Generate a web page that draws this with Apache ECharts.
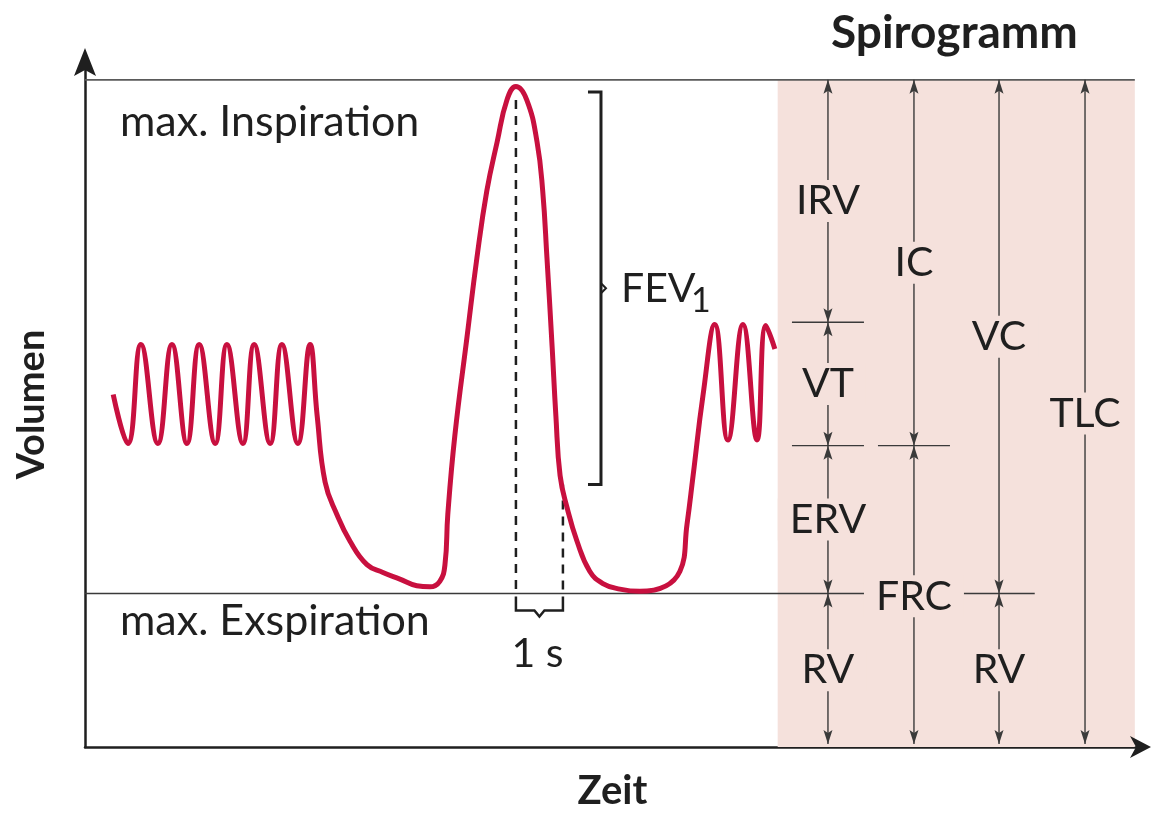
<!DOCTYPE html>
<html>
<head>
<meta charset="utf-8">
<title>Spirogramm</title>
<script src="https://cdn.jsdelivr.net/npm/echarts@6/dist/echarts.min.js"></script>
<style>
html, body { margin: 0; padding: 0; background: #fff; }
#chart { width: 1153px; height: 816px; }
</style>
</head>
<body>
<div id="chart"></div>
<script>
// Zeit in s, Volumen in l
const timeS = [0.60, 0.91, 1.19, 1.55, 1.85, 2.17, 2.43, 2.77, 3.02, 3.36, 3.60, 3.94, 4.19, 4.53, 4.79,
    4.94, 5.11, 5.36, 5.64, 6.00, 6.34, 6.70, 7.06, 7.34, 7.55, 7.66, 7.72, 7.87,
    8.13, 8.34, 8.55, 8.77, 8.98, 9.17, 9.40, 9.62, 9.74, 9.83, 9.94, 10.02, 10.11,
    10.26, 10.47, 10.74, 11.02, 11.38, 11.81, 12.66, 12.81, 12.94,
    13.15, 13.40, 13.68, 14.00, 14.30, 14.49, 14.68];
const volumeL = [3.17, 2.73, 3.62, 2.73, 3.62, 2.73, 3.62, 2.73, 3.62, 2.73, 3.62, 2.73, 3.62, 2.73, 3.62,
    2.98, 2.38, 2.09, 1.85, 1.64, 1.57, 1.51, 1.45, 1.44, 1.49, 1.64, 2.09, 2.80,
    3.69, 4.40, 5.00, 5.44, 5.82, 5.94, 5.82, 5.44, 5.00, 4.40, 3.60, 2.98, 2.44,
    2.15, 1.85, 1.58, 1.47, 1.42, 1.40, 1.58, 2.00, 2.44,
    3.16, 3.80, 2.76, 3.80, 2.76, 3.79, 3.58];

// Grenzen der Lungenvolumina (l)
const levelTLC = 6.0;
const levelTidalTop = 3.82;
const levelFRC = 2.71;
const levelRV = 1.38;

const axisMaxT = 22.45;
const axisMaxV = 6.16;

// Spirogramm rechts
const spiroRangeT = [14.74, 22.34];
const spiroColumnsT = [15.81, 17.64, 19.45, 21.28];
const spiroNames = ['IRV', 'VT', 'ERV', 'RV', 'IC', 'FRC', 'VC', 'RV', 'TLC'];
const spiroColumn = [0, 0, 0, 0, 1, 1, 2, 2, 3];
const spiroFrom = [levelTLC, levelTidalTop, levelFRC, levelRV, levelTLC, levelFRC, levelTLC, levelRV, levelTLC];
const spiroTo = [levelTidalTop, levelFRC, levelRV, 0, levelFRC, 0, levelRV, 0, 0];
const spiroTickColumn = [0, 0, 1];
const spiroTickLevel = [levelTidalTop, levelFRC, levelFRC];
const rvLineEndT = 20.21;

// FEV1: Spitze und 1 s danach
const fev1T = [9.17, 10.17];
const fev1V = [5.89, 2.36];
const fev1BracketT = 10.98;

const ink = '#1f1f1f';
const thin = '#3a3a3a';
const pink = '#f5e1dc';
const red = '#c8103f';
const font = 'Lato';

function renderNotes(params, api) {
    const kids = [];
    const p = (t, v) => api.coord([t, v]);

    function line(a, b, color, width, dash) {
        kids.push({
            type: 'line',
            shape: { x1: a[0], y1: a[1], x2: b[0], y2: b[1] },
            style: { stroke: color, lineWidth: width, lineDash: dash || null }
        });
    }
    function arrowHead(x, y, dir) {
        // dir -1: nach oben, 1: nach unten
        kids.push({
            type: 'polygon',
            shape: { points: [[x, y], [x - 4.5, y - dir * 14], [x, y - dir * 11], [x + 4.5, y - dir * 14]] },
            style: { fill: thin }
        });
    }
    function text(str, x, y, size, align, bg) {
        kids.push({
            type: 'text',
            x: x, y: y,
            style: {
                text: str, fill: ink, fontSize: size, fontFamily: font,
                align: align || 'center', verticalAlign: 'middle',
                backgroundColor: bg || null, padding: bg ? [1, 12] : 0,
                lineHeight: bg ? 40 : size * 1.2
            }
        });
    }

    // rosa Feld
    const a = p(spiroRangeT[0], levelTLC), b = p(spiroRangeT[1], 0);
    kids.push({
        type: 'rect',
        shape: { x: a[0], y: a[1], width: b[0] - a[0], height: b[1] - a[1] },
        style: { fill: pink }
    });

    // Achsenpfeile
    const yEnd = p(0, axisMaxV), xEnd = p(axisMaxT, 0);
    kids.push({
        type: 'polygon',
        shape: { points: [[yEnd[0], yEnd[1] - 14], [yEnd[0] - 11, yEnd[1] + 14], [yEnd[0], yEnd[1] + 8], [yEnd[0] + 11, yEnd[1] + 14]] },
        style: { fill: ink }
    });
    kids.push({
        type: 'polygon',
        shape: { points: [[xEnd[0] + 11, xEnd[1]], [xEnd[0] - 10, xEnd[1] - 11], [xEnd[0] - 4, xEnd[1]], [xEnd[0] - 10, xEnd[1] + 11]] },
        style: { fill: ink }
    });

    // max. Inspiration / Exspiration
    line(p(0, levelTLC), p(spiroRangeT[1], levelTLC), '#5a5a5a', 1.8);
    line(p(0, levelRV), p(rvLineEndT, levelRV), thin, 1.4);

    // Spirogramm-Pfeile
    for (let i = 0; i < spiroTickColumn.length; i++) {
        const c = p(spiroColumnsT[spiroTickColumn[i]], spiroTickLevel[i]);
        line([c[0] - 36, c[1]], [c[0] + 36, c[1]], thin, 1.4);
    }
    for (let i = 0; i < spiroNames.length; i++) {
        const t = spiroColumnsT[spiroColumn[i]];
        const top = p(t, spiroFrom[i]), bot = p(t, spiroTo[i]);
        if (spiroTo[i] === 0) bot[1] -= 3;
        line(top, bot, thin, 1.4);
        arrowHead(top[0], top[1], -1);
        arrowHead(bot[0], bot[1], 1);
    }
    for (let i = 0; i < spiroNames.length; i++) {
        const t = spiroColumnsT[spiroColumn[i]];
        const m = p(t, (spiroFrom[i] + spiroTo[i]) / 2);
        text(spiroNames[i], m[0], m[1], 41, 'center', pink);
    }

    // Texte links
    const ti = p(0, levelTLC);
    text('max. Inspiration', ti[0] + 35, ti[1] + 42, 43, 'left');
    const te = p(0, levelRV);
    text('max. Exspiration', te[0] + 35, te[1] + 28, 43, 'left');

    // gestrichelte Linien und 1-s-Klammer
    const d0 = p(fev1T[0], fev1V[0]), d1 = p(fev1T[1], fev1V[1]);
    const r0 = p(fev1T[0], levelRV), r1 = p(fev1T[1], levelRV);
    line([d0[0], d0[1] + 8], r0, ink, 2.5, [9, 7]);
    line(d1, r1, ink, 2.5, [9, 7]);
    const mx = (r0[0] + r1[0]) / 2;
    kids.push({
        type: 'polyline',
        shape: { points: [[r0[0], r0[1] + 3], [r0[0], r0[1] + 17], [mx - 5, r0[1] + 17], [mx, r0[1] + 23],
            [mx + 5, r0[1] + 17], [r1[0], r0[1] + 17], [r1[0], r0[1] + 3]] },
        style: { stroke: ink, lineWidth: 2.5, fill: null }
    });
    text('1 s', mx - 2, r0[1] + 60, 41, 'center');

    // FEV1-Klammer
    const f0 = p(fev1BracketT, fev1V[0]), f1 = p(fev1BracketT, fev1V[1]);
    const fm = (f0[1] + f1[1]) / 2;
    kids.push({
        type: 'polyline',
        shape: { points: [[f0[0] - 13, f0[1]], [f0[0], f0[1]], [f0[0], f1[1]], [f0[0] - 13, f1[1]]] },
        style: { stroke: ink, lineWidth: 3, fill: null }
    });
    kids.push({
        type: 'polyline',
        shape: { points: [[f0[0], fm - 5], [f0[0] + 5, fm], [f0[0], fm + 5]] },
        style: { stroke: ink, lineWidth: 2, fill: null }
    });
    text('FEV', f0[0] + 20, fm, 41, 'left');
    text('1', f0[0] + 90, fm + 13, 34, 'left');

    return { type: 'group', children: kids };
}

const chart = echarts.init(document.getElementById('chart'));
chart.setOption({
    backgroundColor: '#fff',
    animation: false,
    title: {
        text: 'Spirogramm',
        left: 826,
        top: 5,
        textStyle: { fontFamily: font, fontSize: 46, fontWeight: 'bold', color: ink }
    },
    grid: { left: 85, right: 13, top: 62, bottom: 61 },
    xAxis: {
        type: 'value',
        min: 0,
        max: axisMaxT,
        name: 'Zeit',
        nameLocation: 'middle',
        nameGap: 24,
        nameTextStyle: { fontFamily: font, fontSize: 40, fontWeight: 'bold', color: ink },
        axisLine: { lineStyle: { color: ink, width: 2.5 } },
        axisTick: { show: false },
        axisLabel: { show: false },
        splitLine: { show: false }
    },
    yAxis: {
        type: 'value',
        min: 0,
        max: axisMaxV,
        name: 'Volumen',
        nameLocation: 'middle',
        nameGap: 34,
        nameTextStyle: { fontFamily: font, fontSize: 38, fontWeight: 'bold', color: ink },
        axisLine: { show: true, lineStyle: { color: ink, width: 2.5 } },
        axisTick: { show: false },
        axisLabel: { show: false },
        splitLine: { show: false }
    },
    series: [
        {
            type: 'custom',
            z: 1,
            silent: true,
            renderItem: renderNotes,
            data: [[0, 0]]
        },
        {
            type: 'line',
            z: 3,
            smooth: 0.45,
            showSymbol: false,
            lineStyle: { color: red, width: 5 },
            data: timeS.map((t, i) => [t, volumeL[i]])
        }
    ]
});
</script>
</body>
</html>
